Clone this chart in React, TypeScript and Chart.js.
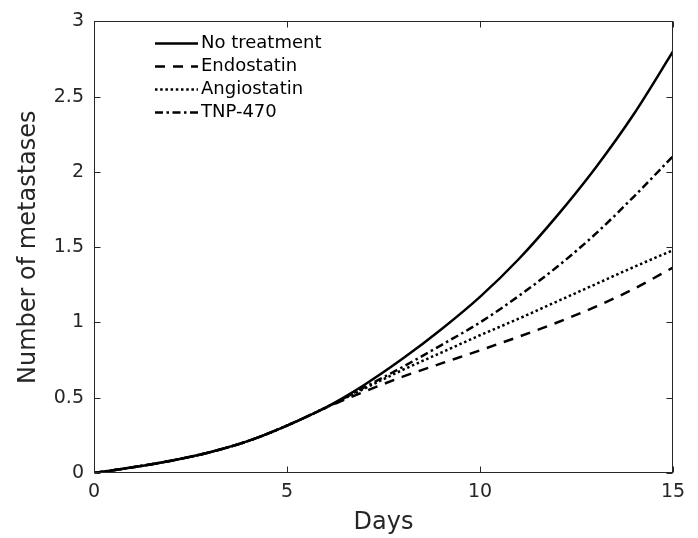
import React, { useEffect, useRef } from 'react';
import { Chart, registerables } from 'chart.js';

Chart.register(...registerables);

const days = [0, 1, 2, 3, 4, 5, 6, 7, 8, 9, 10, 11, 12, 13, 14, 15];
const noTreatment = [0, 0.038, 0.082, 0.138, 0.213, 0.315, 0.435, 0.585, 0.76, 0.955, 1.17, 1.42, 1.71, 2.03, 2.39, 2.8];
const endostatin = [0, 0.038, 0.082, 0.138, 0.213, 0.315, 0.433, 0.54, 0.64, 0.728, 0.815, 0.905, 1.0, 1.105, 1.225, 1.365];
const angiostatin = [0, 0.038, 0.082, 0.138, 0.213, 0.315, 0.434, 0.56, 0.685, 0.8, 0.915, 1.025, 1.14, 1.255, 1.37, 1.48];
const tnp470 = [0, 0.038, 0.082, 0.138, 0.213, 0.315, 0.434, 0.568, 0.705, 0.85, 1.0, 1.175, 1.37, 1.59, 1.84, 2.105];

const seriesLabels = ['No treatment', 'Endostatin', 'Angiostatin', 'TNP-470'];
const xTicks = [0, 5, 10, 15];
const yTicks = [0, 0.5, 1, 1.5, 2, 2.5, 3];
const xTitle = 'Days';
const yTitle = 'Number of metastases';

const FONT = '"DejaVu Sans", sans-serif';
const INK = '#262626';

const dashes: number[][] = [[], [10, 8], [2.5, 2.7], [8, 3.5, 2.5, 3.5]];

const boxPlugin = {
  id: 'boxTicksLegend',
  afterDraw(chart: any) {
    const { ctx, chartArea: a, scales } = chart;
    const x = scales.x;
    const y = scales.y;
    ctx.save();
    ctx.strokeStyle = INK;
    ctx.lineWidth = 1;
    ctx.setLineDash([]);
    const L = Math.floor(a.left) + 0.5;
    const R = Math.floor(a.right) - 0.5;
    const T = Math.floor(a.top) + 0.5;
    const B = Math.floor(a.bottom) - 0.5;
    ctx.strokeRect(L, T, R - L, B - T);
    const tl = 6;
    ctx.beginPath();
    xTicks.forEach((v) => {
      const px = Math.round(x.getPixelForValue(v)) + 0.5;
      ctx.moveTo(px, B);
      ctx.lineTo(px, B - tl);
      ctx.moveTo(px, T);
      ctx.lineTo(px, T + tl);
    });
    yTicks.forEach((v) => {
      const py = Math.round(y.getPixelForValue(v)) + 0.5;
      ctx.moveTo(L, py);
      ctx.lineTo(L + tl, py);
      ctx.moveTo(R, py);
      ctx.lineTo(R - tl, py);
    });
    ctx.stroke();

    // legend
    const lx0 = a.left + 61;
    const lx1 = a.left + 104;
    const tx = a.left + 107;
    const ly0 = a.top + 22;
    const step = 23;
    ctx.font = '18px ' + FONT;
    ctx.textBaseline = 'middle';
    ctx.textAlign = 'left';
    chart.data.datasets.forEach((ds: any, i: number) => {
      const ly = ly0 + i * step;
      ctx.strokeStyle = '#000';
      ctx.lineWidth = 2.5;
      ctx.lineCap = 'butt';
      ctx.setLineDash(ds.borderDash || []);
      ctx.beginPath();
      ctx.moveTo(lx0, ly);
      ctx.lineTo(lx1, ly);
      ctx.stroke();
      ctx.setLineDash([]);
      ctx.fillStyle = '#000';
      ctx.fillText(ds.label, tx, ly);
    });
    ctx.restore();
  },
};

export default function App() {
  const ref = useRef<HTMLCanvasElement | null>(null);

  useEffect(() => {
    if (!ref.current) return;
    const series = [noTreatment, endostatin, angiostatin, tnp470];
    const chart = new Chart(ref.current, {
      type: 'line',
      data: {
        datasets: series.map((s, i) => ({
          label: seriesLabels[i],
          data: days.map((d, j) => ({ x: d, y: s[j] })),
          borderColor: '#000',
          backgroundColor: '#000',
          borderWidth: 2.5,
          borderDash: dashes[i],
          borderCapStyle: 'butt',
          pointRadius: 0,
          fill: false,
          cubicInterpolationMode: 'monotone',
        })),
      },
      options: {
        animation: false,
        responsive: true,
        maintainAspectRatio: false,
        layout: { padding: { top: 17, right: 25, left: 0, bottom: 0 } },
        plugins: {
          legend: { display: false },
          tooltip: { enabled: false },
        },
        scales: {
          x: {
            type: 'linear',
            min: 0,
            max: 15,
            grid: { display: false, drawTicks: false },
            border: { display: false },
            ticks: {
              stepSize: 5,
              padding: 8,
              maxRotation: 0,
              color: INK,
              font: { family: FONT, size: 19 },
              callback: (v: any) => String(v),
            },
            title: {
              display: true,
              text: xTitle,
              color: INK,
              font: { family: FONT, size: 24 },
              padding: { top: 0, bottom: 1 },
            },
            afterFit: (s: any) => {
              s.height = 65;
            },
          },
          y: {
            type: 'linear',
            min: 0,
            max: 3,
            grid: { display: false, drawTicks: false },
            border: { display: false },
            ticks: {
              stepSize: 0.5,
              padding: 10,
              color: INK,
              font: { family: FONT, size: 19 },
              callback: (v: any) => String(v),
            },
            title: {
              display: true,
              text: yTitle,
              color: INK,
              font: { family: FONT, size: 24 },
              padding: { top: 14, bottom: 0 },
            },
            afterFit: (s: any) => {
              s.width = 94;
            },
          },
        },
      },
      plugins: [boxPlugin],
    } as any);
    return () => chart.destroy();
  }, []);

  return (
    <div style={{ position: 'fixed', left: 0, top: 0, width: 698, height: 538, background: '#fff' }}>
      <canvas ref={ref} />
    </div>
  );
}
